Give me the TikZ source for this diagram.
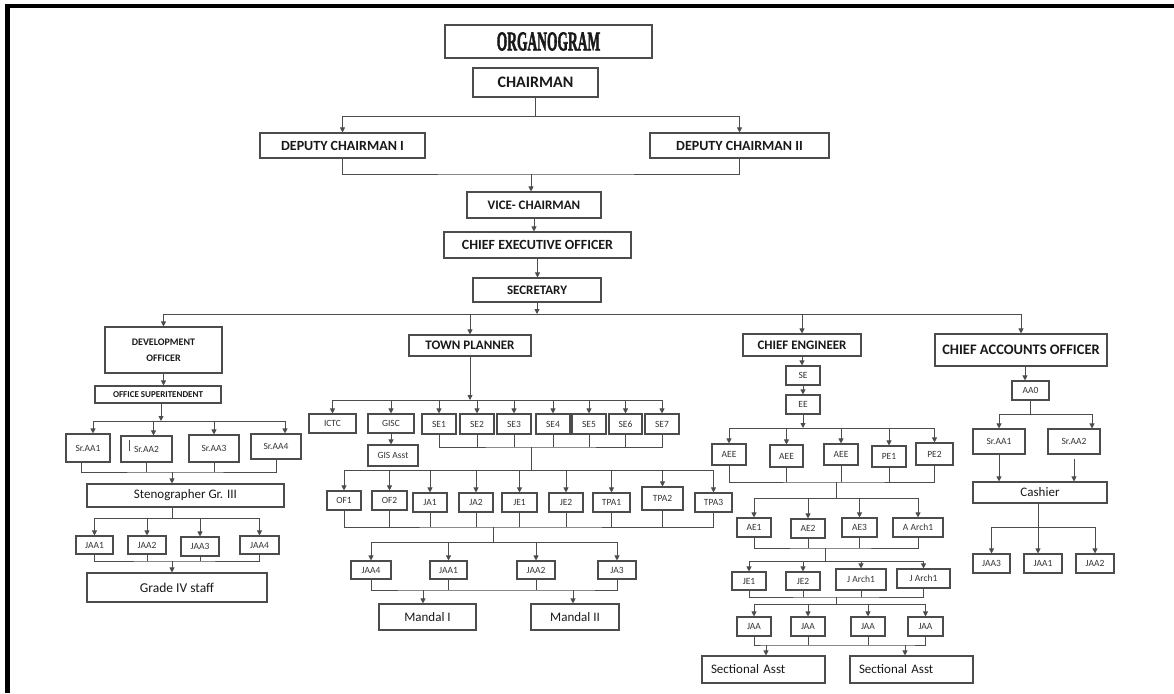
\documentclass[tikz,border=0pt]{standalone}
\usepackage{fontspec}
\usepackage{graphicx}
\setmainfont{Carlito}
\newfontfamily\orgfont[BoldFeatures={FakeBold=2.5}]{Liberation Serif}
\usetikzlibrary{arrows.meta}
\newcommand\fs[1]{\fontsize{#1}{#1}\selectfont}
\newcommand\obox[7][]{\node[box,#1,minimum width={(#5-#3)*1pt},minimum height={(#6-#4)*1pt}] (#2) at ({(#3+#5)/2},{(#4+#6)/2}) {#7};}
\tikzset{
 box/.style={draw=black!70, line width=1.1pt, inner sep=0pt, text=black!90, align=center, font=\fs{9.3}},
 big/.style={font=\bfseries\fs{13}},
 sm/.style={font=\fs{9.5}, text=black!80},
 ln/.style={draw=black!70, line width=0.9pt},
 arr/.style={ln, -{Triangle[length=5pt,width=5pt]}},
 sect/.style={font=\fs{13}, align=left, text width=105pt},
}
\begin{document}
\begin{tikzpicture}[x=1pt,y=-1pt]
\useasboundingbox (0,0) rectangle (1174,693);
\fill[black] (5,4) rectangle (1174,8.5);
\fill[black] (5,4) rectangle (9.5,693);
% top chain
\obox[font=\orgfont\bfseries\fs{27}]{org}{445}{25}{652}{58}{\scalebox{0.5}[1]{ORGANOGRAM}}
\obox[font=\bfseries\fs{16}]{chair}{473}{68}{598}{97}{CHAIRMAN}
\obox[font=\bfseries\fs{14}]{dc1}{260}{133}{425}{158}{DEPUTY CHAIRMAN I}
\obox[font=\bfseries\fs{14}]{dc2}{650}{133}{829}{158}{DEPUTY CHAIRMAN II}
\obox[big]{vice}{467}{192}{601}{218}{VICE- CHAIRMAN}
\obox[font=\bfseries\fs{14}]{ceo}{444}{232}{631}{258}{CHIEF EXECUTIVE OFFICER}
\obox[big]{sec}{473}{278}{601}{302}{SECRETARY}
% development branch
\obox[font=\bfseries\fontsize{10}{16}\selectfont]{dev}{105}{327}{222}{373}{DEVELOPMENT\\OFFICER}
\obox[font=\bfseries\fs{9}]{osup}{95}{386}{221}{403}{OFFICE SUPERITENDENT}
\obox[sm]{sraa1}{66}{434}{110}{462}{Sr.AA1}
\obox[sm]{sraa2}{121}{436}{172}{462}{Sr.AA2}
\obox[sm]{sraa3}{189}{435}{239}{462}{Sr.AA3}
\obox[sm]{sraa4}{251}{434}{301}{459}{Sr.AA4}
\obox[font=\fs{13}]{steno}{87}{484}{284}{507}{Stenographer Gr. III}
\obox[sm]{jaa1}{76}{536}{113}{554}{JAA1}
\obox[sm]{jaa2}{128}{536}{166}{554}{JAA2}
\obox[sm]{jaa3}{181}{537}{219}{556}{JAA3}
\obox[sm]{jaa4}{240}{536}{279}{554}{JAA4}
\obox[font=\fs{13.5}]{g4}{87}{573}{267}{602}{Grade IV staff}
% town planner branch
\obox[big]{tp}{409}{335}{531}{356}{TOWN PLANNER}
\obox[sm]{ictc}{309}{414}{356}{433}{ICTC}
\obox[sm]{gisc}{368}{414}{414}{433}{GISC}
\obox[sm]{se1}{422}{414}{456}{434}{SE1}
\obox[sm]{se2}{460}{414}{494}{434}{SE2}
\obox[sm]{se3}{497}{414}{531}{434}{SE3}
\obox[sm]{se4}{536}{414}{570}{434}{SE4}
\obox[sm]{se5}{572}{414}{606}{434}{SE5}
\obox[sm]{se6}{609}{414}{642}{434}{SE6}
\obox[sm]{se7}{645}{414}{679}{434}{SE7}
\obox[sm]{gisa}{368}{445}{418}{466}{GIS Asst}
\obox[sm]{of1}{327}{491}{361}{510}{OF1}
\obox[sm]{of2}{372}{491}{407}{510}{OF2}
\obox[sm]{ja1}{413}{493}{447}{512}{JA1}
\obox[sm]{ja2}{459}{493}{493}{512}{JA2}
\obox[sm]{je1}{502}{493}{537}{512}{JE1}
\obox[sm]{je2}{549}{493}{583}{512}{JE2}
\obox[sm]{tpa1}{593}{493}{630}{512}{TPA1}
\obox[sm]{tpa2}{642}{487}{683}{510}{TPA2}
\obox[sm]{tpa3}{695}{493}{732}{512}{TPA3}
\obox[sm]{jaa4t}{351}{561}{391}{579}{JAA4}
\obox[sm]{jaa1t}{430}{561}{467}{579}{JAA1}
\obox[sm]{jaa2t}{517}{561}{555}{579}{JAA2}
\obox[sm]{ja3t}{598}{561}{636}{579}{JA3}
\obox[font=\fs{13}]{m1}{379}{604}{476}{630}{Mandal I}
\obox[font=\fs{13}]{m2}{531}{604}{619}{630}{Mandal II}
% chief engineer branch
\obox[big]{ce}{743}{334}{861}{356}{CHIEF ENGINEER}
\obox[sm]{sex}{786}{366}{820}{385}{SE}
\obox[sm]{ee}{786}{395}{820}{414}{EE}
\obox[sm]{aee1}{712}{444}{746}{465}{AEE}
\obox[sm]{aee2}{770}{445}{803}{467}{AEE}
\obox[sm]{aee3}{824}{444}{858}{465}{AEE}
\obox[sm]{pe1}{872}{446}{906}{467}{PE1}
\obox[sm]{pe2}{916}{443}{953}{465}{PE2}
\obox[sm]{ae1}{737}{518}{771}{537}{AE1}
\obox[sm]{ae2}{791}{519}{825}{538}{AE2}
\obox[sm]{ae3}{842}{518}{877}{537}{AE3}
\obox[sm]{aarch}{893}{518}{943}{537}{A Arch1}
\obox[sm]{je1c}{732}{572}{766}{590}{JE1}
\obox[sm]{je2c}{786}{572}{820}{590}{JE2}
\obox[sm]{jarch1}{836}{569}{886}{590}{J Arch1}
\obox[sm]{jarch2}{897}{569}{950}{588}{J Arch1}
\obox[sm]{jaac1}{737}{617}{771}{636}{JAA}
\obox[sm]{jaac2}{791}{617}{825}{636}{JAA}
\obox[sm]{jaac3}{851}{617}{885}{636}{JAA}
\obox[sm]{jaac4}{908}{617}{943}{636}{JAA}
\obox[sect]{sa1}{702}{656}{825}{683}{Sectional Asst}
\obox[sect]{sa2}{850}{656}{973}{683}{Sectional Asst}
% chief accounts branch
\obox[font=\bfseries\fs{14.5}]{cao}{935}{334}{1107}{366}{CHIEF ACCOUNTS OFFICER}
\obox[sm]{aa0}{1012}{381}{1049}{400}{AA0}
\obox[sm]{sraa1c}{973}{429}{1025}{454}{Sr.AA1}
\obox[sm]{sraa2c}{1048}{429}{1100}{454}{Sr.AA2}
\obox[font=\fs{13}]{cash}{973}{482}{1107}{503}{Cashier}
\obox[sm]{jaa3c}{973}{554}{1010}{573}{JAA3}
\obox[sm]{jaa1c}{1024}{554}{1062}{573}{JAA1}
\obox[sm]{jaa2c}{1076}{554}{1114}{573}{JAA2}
% cursor mark in Sr.AA2
\draw[black!70, line width=0.6pt] (129.5,440) -- (129.5,451);
% ---------------- connectors
\coordinate (b1) at (531,116);
\draw[ln] (chair.south) -- (chair.south |- b1);
\draw[arr] (b1) -| (dc1.north);
\draw[arr] (b1) -| (dc2.north);
\coordinate (b2) at (531,174);
\draw[ln] (dc1.south) |- (b2) -| (dc2.south);
\draw[arr] (b2) -- (b2 |- vice.north);
\draw[arr] (vice.south) -- (vice.south |- ceo.north);
\draw[arr] (ceo.south) -- (ceo.south |- sec.north);
\coordinate (b3) at (537,314);
\draw[arr] (sec.south) -- (sec.south |- b3);
\draw[arr] (b3) -| (dev.north);
\draw[arr] (b3) -| (tp.north);
\draw[arr] (b3) -| (ce.north);
\draw[arr] (b3) -| (cao.north);
% development
\draw[arr] (dev.south) -- (dev.south |- osup.north);
\coordinate (b4) at (161,421);
\draw[arr] (osup.south -| b4) -- (b4);
\draw[arr] (b4) -| ([xshift=5pt]sraa1.north);
\draw[arr] (b4) -| ([xshift=7pt]sraa2.north);
\draw[arr] (b4) -| (sraa3.north);
\draw[arr] (b4) -| ([xshift=9pt]sraa4.north);
\coordinate (b5) at (172,472);
\draw[ln] ([xshift=-7pt]sraa1.south) |- (b5) -| (sraa4.south);
\draw[ln] (sraa2.south) -- (sraa2.south |- b5);
\draw[ln] (sraa3.south) -- (sraa3.south |- b5);
\draw[arr] (b5) -- (b5 |- steno.north);
\coordinate (b6) at (172,518);
\draw[ln] (b6 |- steno.south) -- (b6);
\foreach \n in {jaa1,jaa2,jaa3,jaa4} \draw[arr] (b6) -| (\n.north);
\coordinate (b7) at (172,561);
\draw[ln] (jaa1.south) |- (b7) -| (jaa4.south);
\draw[ln] (jaa2.south) -- (jaa2.south |- b7);
\draw[ln] (jaa3.south) -- (jaa3.south |- b7);
\draw[arr] (b7) -- (b7 |- g4.north);
% town planner
\coordinate (b8) at (467,400);
\draw[arr] (tp.south) -- (tp.south |- b8);
\foreach \n in {ictc,gisc,se1,se2,se3,se4,se5,se6,se7} \draw[arr] (b8) -| (\n.north);
\draw[arr] (gisc.south) -- (gisc.south |- gisa.north);
\coordinate (b9) at (531,447);
\draw[ln] (se1.south) |- (b9) -| (se7.south);
\foreach \n in {se2,se3,se4,se5,se6} \draw[ln] (\n.south) -- (\n.south |- b9);
\coordinate (b10) at (531,470);
\draw[ln] (b9) -- (b10);
\foreach \n in {of1,of2,ja1,ja2,je1,je2,tpa1,tpa2,tpa3} \draw[arr] (b10) -| (\n.north);
\coordinate (b11) at (493,527);
\draw[ln] (of1.south) |- (b11) -| (tpa3.south);
\foreach \n in {of2,ja1,ja2,je1,je2,tpa1,tpa2} \draw[ln] (\n.south) -- (\n.south |- b11);
\coordinate (b12) at (493,542);
\draw[ln] (b11) -- (b12);
\foreach \n in {jaa4t,jaa1t,jaa2t,ja3t} \draw[arr] (b12) -| (\n.north);
\coordinate (b13) at (423,590);
\coordinate (b14) at (573,590);
\draw[ln] (jaa4t.south) |- (b13) -- (b14) -| (ja3t.south);
\draw[ln] (jaa1t.south) -- (jaa1t.south |- b13);
\draw[ln] (jaa2t.south) -- (jaa2t.south |- b13);
\draw[arr] (b13) -- (b13 |- m1.north);
\draw[arr] (b14) -- (b14 |- m2.north);
% chief engineer
\draw[arr] (ce.south) -- (ce.south |- sex.north);
\draw[arr] (sex.south) -- (sex.south |- ee.north);
\coordinate (b15) at (803,428);
\draw[arr] (ee.south) -- (ee.south |- b15);
\foreach \n in {aee1,aee2,aee3,pe1,pe2} \draw[arr] (b15) -| (\n.north);
\coordinate (b16) at (836,482);
\draw[ln] (aee1.south) |- (b16) -| (pe2.south);
\foreach \n in {aee2,aee3,pe1} \draw[ln] (\n.south) -- (\n.south |- b16);
\coordinate (b17) at (836,498);
\draw[ln] (b16) -- (b17);
\foreach \n in {ae1,ae2,ae3,aarch} \draw[arr] (b17) -| (\n.north);
\coordinate (b18) at (825,548);
\draw[ln] (ae1.south) |- (b18) -| (aarch.south);
\foreach \n in {ae2,ae3} \draw[ln] (\n.south) -- (\n.south |- b18);
\coordinate (b19) at (825,561);
\draw[ln] (b18) -- (b19);
\foreach \n in {je1c,je2c,jarch1,jarch2} \draw[arr] (b19) -| (\n.north);
\coordinate (b22) at (836,597);
\draw[ln] (je1c.south) |- (b22) -| (jarch2.south);
\foreach \n in {je2c,jarch1} \draw[ln] (\n.south) -- (\n.south |- b22);
\coordinate (b23) at (836,604);
\draw[ln] (b22) -- (b23);
\foreach \n in {jaac1,jaac2,jaac3,jaac4} \draw[arr] (b23) -| (\n.north);
\coordinate (b24) at (766,645);
\coordinate (b25) at (905,645);
\draw[ln] (jaac1.south) |- (b24) -- (b25) -| (jaac4.south);
\foreach \n in {jaac2,jaac3} \draw[ln] (\n.south) -- (\n.south |- b24);
\draw[arr] (b24) -- (b24 |- sa1.north);
\draw[arr] (b25) -- (b25 |- sa2.north);
% chief accounts
\draw[arr] ([xshift=4pt]cao.south) -- ([xshift=4pt]cao.south |- aa0.north);
\coordinate (b20) at (1030,414);
\draw[ln] (aa0.south) -- (aa0.south |- b20);
\draw[arr] (b20) -| (sraa1c.north);
\draw[arr] (b20) -| ([xshift=18pt]sraa2c.north);
\draw[arr] (sraa1c.south) -- (sraa1c.south |- cash.north);
\draw[arr] ([yshift=-4pt]sraa2c.south) -- (sraa2c.south |- cash.north);
\coordinate (b21) at (1038,527);
\draw[arr] (b21 |- cash.south) -- (b21 |- jaa1c.north);
\draw[arr] (b21) -| (jaa3c.north);
\draw[arr] (b21) -| (jaa2c.north);
\end{tikzpicture}
\end{document}
